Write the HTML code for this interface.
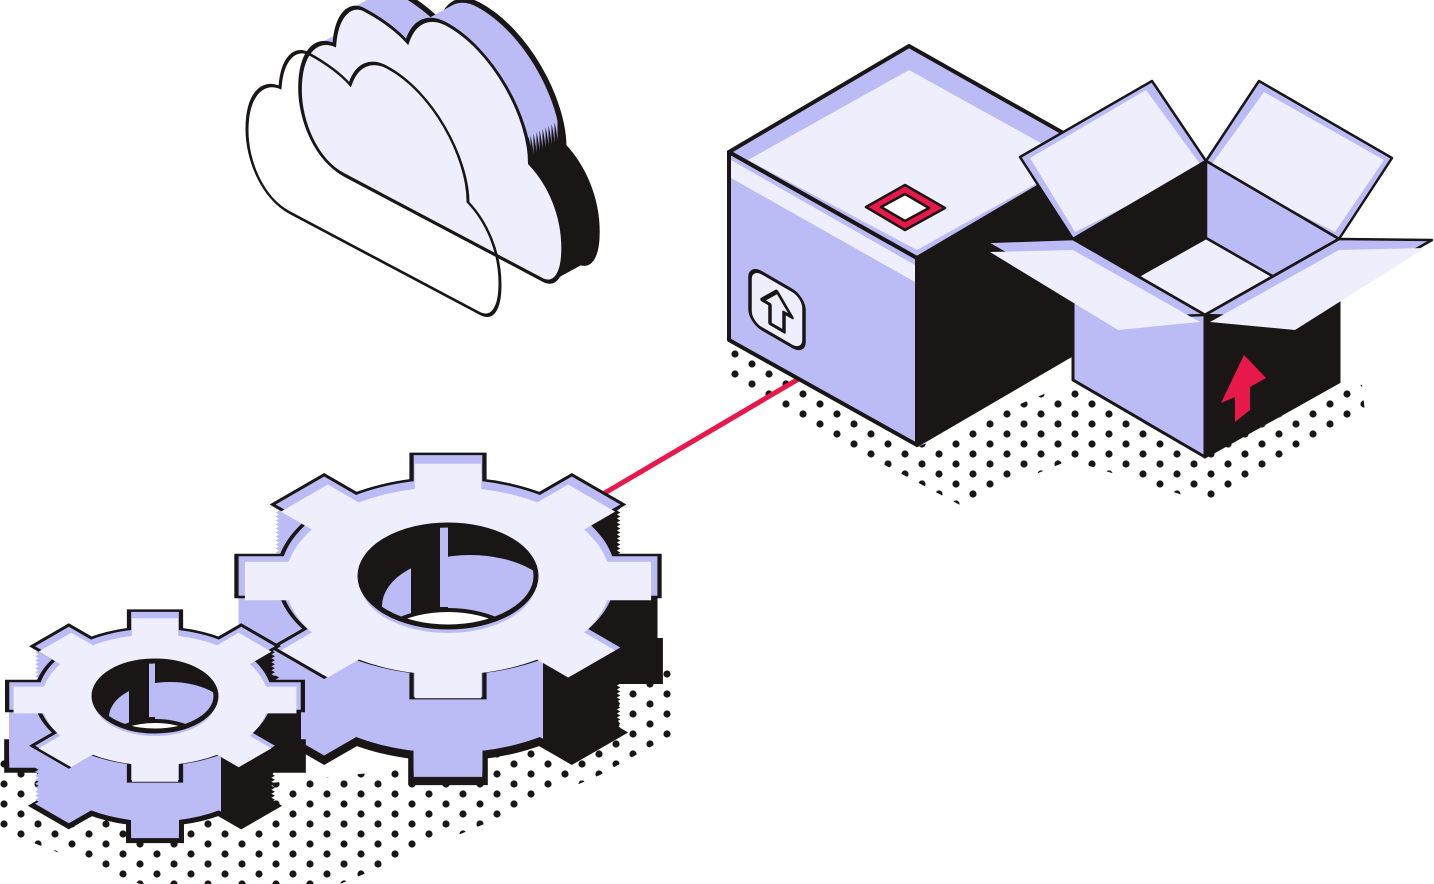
<!DOCTYPE html>
<html><head><meta charset="utf-8"><style>
html,body{margin:0;padding:0;background:#fff;}
svg{display:block;}
</style></head><body>
<svg xmlns="http://www.w3.org/2000/svg" xmlns:xlink="http://www.w3.org/1999/xlink" width="1434" height="884" viewBox="0 0 1434 884">
<defs>
<pattern id="dots" width="34" height="20" patternUnits="userSpaceOnUse">
<circle cx="4" cy="4" r="3.6" fill="#1a1616"/><circle cx="21" cy="14" r="3.6" fill="#1a1616"/>
</pattern>
<linearGradient id="cg" gradientUnits="userSpaceOnUse" x1="0" y1="0" x2="253" y2="0">
<stop offset="0" stop-color="#bbbbf6"/><stop offset="0.86" stop-color="#bbbbf6"/><stop offset="0.86" stop-color="#1a1616"/><stop offset="1" stop-color="#1a1616"/>
</linearGradient>
<linearGradient id="gg" gradientUnits="userSpaceOnUse" x1="-171" y1="171" x2="171" y2="-171">
<stop offset="0" stop-color="#bbbbf6"/><stop offset="0.66" stop-color="#bbbbf6"/><stop offset="0.66" stop-color="#1a1616"/><stop offset="1" stop-color="#1a1616"/>
</linearGradient>
<path id="cl" d="M43,190 C15,190 0,160 0,130 C0,95 15,72 33,70 C35,40 48,21 62,21 C80,21 95,25 103,30 C110,5 125,-7 140,-7 C185,-7 221,40 221,85 C240,95 253,118 253,150 C253,175 245,190 233,190 Z"/>
<g id="gb">
<circle cx="0" cy="0" r="137"/>
<polygon points="-28,-171 28,-171 28,-127 -28,-127"/>
<polygon points="171,-28 171,28 127,28 127,-28"/>
<polygon points="28,171 -28,171 -28,127 28,127"/>
<polygon points="-171,28 -171,-28 -127,-28 -127,28"/>
<polygon points="101.1,-140.7 140.7,-101.1 109.6,-70 70,-109.6"/>
<polygon points="140.7,101.1 101.1,140.7 70,109.6 109.6,70"/>
<polygon points="-101.1,140.7 -140.7,101.1 -109.6,70 -70,109.6"/>
<polygon points="-140.7,-101.1 -101.1,-140.7 -70,-109.6 -109.6,-70"/>
</g>
<clipPath id="h1"><ellipse cx="448" cy="576" rx="88" ry="51"/></clipPath>
<clipPath id="h2"><ellipse cx="155" cy="696" rx="61" ry="35"/></clipPath>
</defs>

<polygon points="722,340 722,382 800,420 960,505 1070,460 1215,505 1365,412 1362,385 1340,384 1205,458 1073,382 917,447" fill="url(#dots)"/>
<polygon points="0,752 0,830 140,884 340,884 470,830 600,775 672,735 672,668 600,700 400,770 200,790" fill="url(#dots)"/>

<line x1="603" y1="494" x2="802" y2="377" stroke="#e8194a" stroke-width="5"/>

<g>
<use xlink:href="#cl" transform="translate(334,-64.7) matrix(1.04,0.55,0,1.04,0,0)" fill="#1a1616" stroke="#1a1616" stroke-width="5"/>
<use xlink:href="#cl" transform="translate(331,-63) matrix(1.04,0.55,0,1.04,0,0)" fill="url(#cg)"/>
<use xlink:href="#cl" transform="translate(328,-61.4) matrix(1.04,0.55,0,1.04,0,0)" fill="url(#cg)"/>
<use xlink:href="#cl" transform="translate(325,-59.75) matrix(1.04,0.55,0,1.04,0,0)" fill="url(#cg)"/>
<use xlink:href="#cl" transform="translate(322,-58.1) matrix(1.04,0.55,0,1.04,0,0)" fill="url(#cg)"/>
<use xlink:href="#cl" transform="translate(319,-56.45) matrix(1.04,0.55,0,1.04,0,0)" fill="url(#cg)"/>
<use xlink:href="#cl" transform="translate(316,-54.8) matrix(1.04,0.55,0,1.04,0,0)" fill="url(#cg)"/>
<use xlink:href="#cl" transform="translate(313,-53.15) matrix(1.04,0.55,0,1.04,0,0)" fill="url(#cg)"/>
<use xlink:href="#cl" transform="translate(310,-51.5) matrix(1.04,0.55,0,1.04,0,0)" fill="url(#cg)"/>
<use xlink:href="#cl" transform="translate(307,-49.85) matrix(1.04,0.55,0,1.04,0,0)" fill="url(#cg)"/>
<use xlink:href="#cl" transform="translate(304,-48.2) matrix(1.04,0.55,0,1.04,0,0)" fill="url(#cg)"/>
<use xlink:href="#cl" transform="translate(302,-47.1) matrix(1.04,0.55,0,1.04,0,0)" fill="url(#cg)"/>
<use xlink:href="#cl" transform="translate(300,-46) matrix(1.04,0.55,0,1.04,0,0)" fill="#eeeefc" stroke="#1a1616" stroke-width="3.5"/>
<use xlink:href="#cl" transform="translate(247,0) matrix(1,0.53,0,1,0,0)" fill="none" stroke="#1a1616" stroke-width="3"/>
</g>

<g stroke="#1a1616" stroke-width="4" stroke-linejoin="round">
<polygon points="917,258 1097,152 1097,340 917,445" fill="#1a1616"/>
<polygon points="729,152 917,258 917,445 729,340" fill="#bbbbf6"/>
<polygon points="731,160 915,265 915,282 731,178" fill="#eeeefc" stroke="none"/>
<polygon points="729,152 909,46 1097,152 917,258" fill="#bbbbf6"/>
<polygon points="748,160 909,70 1075,162 917,250" fill="#eeeefc" stroke="none"/>
<polygon points="866,207 905,185 945,208 905,230" fill="#e8194a" stroke-width="2.5"/>
<polygon points="881,207 905,194 929,208 905,221" fill="#fff" stroke-width="2.5"/>
<g transform="matrix(1,0.577,0,1,750,266)">
<rect x="0" y="0" width="54" height="56" rx="12" fill="#eeeefc" stroke-width="3.5"/>
<path d="M27,10 L42,27 L34,27 L34,46 L20,46 L20,27 L12,27 Z" fill="#eeeefc" stroke-width="3.5"/>
</g>
</g>

<g stroke="#1a1616" stroke-width="2.5" stroke-linejoin="round">
<polygon points="1206,161 1073,239 1020,157 1152,81" fill="#bbbbf6"/>
<polygon points="1203,168 1075,232 1030,158 1146,90" fill="#eeeefc" stroke="none"/>
<polygon points="1206,161 1339,239 1392,158 1259,81" fill="#bbbbf6"/>
<polygon points="1209,168 1335,232 1384,160 1264,92" fill="#eeeefc" stroke="none"/>
<polygon points="1206,161 1073,239 1205,315 1339,239" fill="#1a1616"/>
<polygon points="1206,161 1339,239 1274,277 1206,238" fill="#bbbbf6"/>
<polygon points="1135,278 1206,238 1274,277 1205,315" fill="#eeeefc"/>
<polygon points="1073,239 1205,315 1205,457 1073,380" fill="#bbbbf6" stroke-width="3"/>
<polygon points="1205,315 1339,239 1339,382 1205,457" fill="#1a1616" stroke-width="3"/>
<polygon points="1244,355 1266,378 1250,387 1250,410 1235,422 1235,397 1221,403" fill="#e8194a" stroke="none"/>
<polygon points="1073,239 1205,315 1118,318 986,242" fill="#bbbbf6"/>
<polygon points="1073,250 1200,322 1118,330 990,252" fill="#eeeefc" stroke="none"/>
<polygon points="1205,315 1339,239 1432,240 1295,318" fill="#bbbbf6"/>
<polygon points="1210,322 1339,250 1425,248 1295,330" fill="#eeeefc" stroke="none"/>
</g>

<g>
<use xlink:href="#gb" transform="matrix(0.866,0.5,-0.866,0.5,448,661)" fill="#1a1616" stroke="#1a1616" stroke-width="9"/>
<use xlink:href="#gb" transform="matrix(0.866,0.5,-0.866,0.5,448,656)" fill="url(#gg)"/>
<use xlink:href="#gb" transform="matrix(0.866,0.5,-0.866,0.5,448,652)" fill="url(#gg)"/>
<use xlink:href="#gb" transform="matrix(0.866,0.5,-0.866,0.5,448,648)" fill="url(#gg)"/>
<use xlink:href="#gb" transform="matrix(0.866,0.5,-0.866,0.5,448,644)" fill="url(#gg)"/>
<use xlink:href="#gb" transform="matrix(0.866,0.5,-0.866,0.5,448,640)" fill="url(#gg)"/>
<use xlink:href="#gb" transform="matrix(0.866,0.5,-0.866,0.5,448,636)" fill="url(#gg)"/>
<use xlink:href="#gb" transform="matrix(0.866,0.5,-0.866,0.5,448,632)" fill="url(#gg)"/>
<use xlink:href="#gb" transform="matrix(0.866,0.5,-0.866,0.5,448,628)" fill="url(#gg)"/>
<use xlink:href="#gb" transform="matrix(0.866,0.5,-0.866,0.5,448,624)" fill="url(#gg)"/>
<use xlink:href="#gb" transform="matrix(0.866,0.5,-0.866,0.5,448,620)" fill="url(#gg)"/>
<use xlink:href="#gb" transform="matrix(0.866,0.5,-0.866,0.5,448,616)" fill="url(#gg)"/>
<use xlink:href="#gb" transform="matrix(0.866,0.5,-0.866,0.5,448,612)" fill="url(#gg)"/>
<use xlink:href="#gb" transform="matrix(0.866,0.5,-0.866,0.5,448,608)" fill="url(#gg)"/>
<use xlink:href="#gb" transform="matrix(0.866,0.5,-0.866,0.5,448,604)" fill="url(#gg)"/>
<use xlink:href="#gb" transform="matrix(0.866,0.5,-0.866,0.5,448,600)" fill="url(#gg)"/>
<use xlink:href="#gb" transform="matrix(0.866,0.5,-0.866,0.5,448,596)" fill="url(#gg)"/>
<use xlink:href="#gb" transform="matrix(0.866,0.5,-0.866,0.5,448,592)" fill="url(#gg)"/>
<use xlink:href="#gb" transform="matrix(0.866,0.5,-0.866,0.5,448,588)" fill="url(#gg)"/>
<use xlink:href="#gb" transform="matrix(0.866,0.5,-0.866,0.5,448,584)" fill="url(#gg)"/>
<use xlink:href="#gb" transform="matrix(0.866,0.5,-0.866,0.5,448,580)" fill="url(#gg)"/>
<use xlink:href="#gb" transform="matrix(0.866,0.5,-0.866,0.5,448,576)" fill="#1a1616" stroke="#1a1616" stroke-width="7"/>
<use xlink:href="#gb" transform="matrix(0.866,0.5,-0.866,0.5,448,576)" fill="#bbbbf6"/>
<use xlink:href="#gb" transform="matrix(0.84,0.485,-0.84,0.485,448,581)" fill="#eeeefc"/>
<ellipse cx="448" cy="582" rx="88" ry="51" fill="#bbbbf6"/>
<ellipse cx="448" cy="576" rx="88" ry="51" fill="#1a1616"/>
<g clip-path="url(#h1)">
<ellipse cx="470" cy="606" rx="88" ry="51" fill="#bbbbf6"/>
<rect x="411" y="525" width="37" height="102" fill="#1a1616"/>
<rect x="440" y="525" width="8" height="82" fill="#bbbbf6"/>
<ellipse cx="448" cy="661" rx="84" ry="51" fill="#fff" stroke="#1a1616" stroke-width="4"/>
</g>
<ellipse cx="448" cy="576" rx="88" ry="51" fill="none" stroke="#1a1616" stroke-width="5"/>
</g>

<g>
<use xlink:href="#gb" transform="matrix(0.6027,0.348,-0.6027,0.348,155,756)" fill="#1a1616" stroke="#1a1616" stroke-width="12"/>
<use xlink:href="#gb" transform="matrix(0.6027,0.348,-0.6027,0.348,155,754)" fill="url(#gg)"/>
<use xlink:href="#gb" transform="matrix(0.6027,0.348,-0.6027,0.348,155,750)" fill="url(#gg)"/>
<use xlink:href="#gb" transform="matrix(0.6027,0.348,-0.6027,0.348,155,746)" fill="url(#gg)"/>
<use xlink:href="#gb" transform="matrix(0.6027,0.348,-0.6027,0.348,155,742)" fill="url(#gg)"/>
<use xlink:href="#gb" transform="matrix(0.6027,0.348,-0.6027,0.348,155,738)" fill="url(#gg)"/>
<use xlink:href="#gb" transform="matrix(0.6027,0.348,-0.6027,0.348,155,734)" fill="url(#gg)"/>
<use xlink:href="#gb" transform="matrix(0.6027,0.348,-0.6027,0.348,155,730)" fill="url(#gg)"/>
<use xlink:href="#gb" transform="matrix(0.6027,0.348,-0.6027,0.348,155,726)" fill="url(#gg)"/>
<use xlink:href="#gb" transform="matrix(0.6027,0.348,-0.6027,0.348,155,722)" fill="url(#gg)"/>
<use xlink:href="#gb" transform="matrix(0.6027,0.348,-0.6027,0.348,155,718)" fill="url(#gg)"/>
<use xlink:href="#gb" transform="matrix(0.6027,0.348,-0.6027,0.348,155,714)" fill="url(#gg)"/>
<use xlink:href="#gb" transform="matrix(0.6027,0.348,-0.6027,0.348,155,710)" fill="url(#gg)"/>
<use xlink:href="#gb" transform="matrix(0.6027,0.348,-0.6027,0.348,155,706)" fill="url(#gg)"/>
<use xlink:href="#gb" transform="matrix(0.6027,0.348,-0.6027,0.348,155,702)" fill="url(#gg)"/>
<use xlink:href="#gb" transform="matrix(0.6027,0.348,-0.6027,0.348,155,698)" fill="url(#gg)"/>
<use xlink:href="#gb" transform="matrix(0.6027,0.348,-0.6027,0.348,155,696)" fill="#1a1616" stroke="#1a1616" stroke-width="10"/>
<use xlink:href="#gb" transform="matrix(0.6027,0.348,-0.6027,0.348,155,696)" fill="#bbbbf6"/>
<use xlink:href="#gb" transform="matrix(0.585,0.338,-0.585,0.338,155,700)" fill="#eeeefc"/>
<ellipse cx="155" cy="701" rx="61" ry="35" fill="#bbbbf6"/>
<ellipse cx="155" cy="696" rx="61" ry="35" fill="#1a1616"/>
<g clip-path="url(#h2)">
<ellipse cx="170" cy="717" rx="61" ry="35" fill="#bbbbf6"/>
<rect x="129" y="661" width="26" height="70" fill="#1a1616"/>
<rect x="149" y="661" width="6" height="56" fill="#bbbbf6"/>
<ellipse cx="155" cy="756" rx="58" ry="35" fill="#fff" stroke="#1a1616" stroke-width="4"/>
</g>
<ellipse cx="155" cy="696" rx="61" ry="35" fill="none" stroke="#1a1616" stroke-width="5"/>
</g>
</svg>
</body></html>
